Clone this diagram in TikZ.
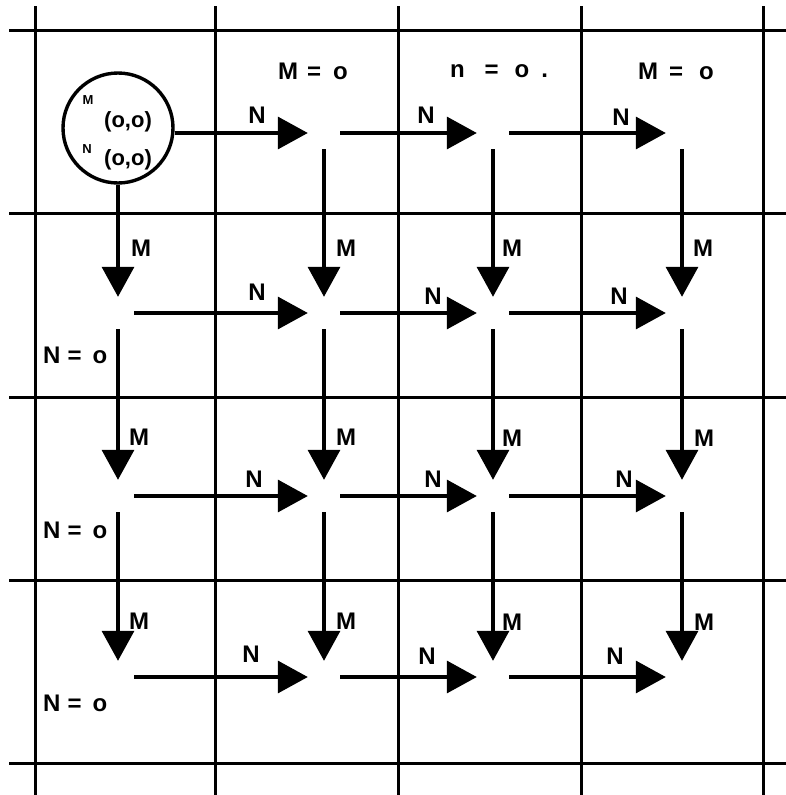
\documentclass[tikz,border=0pt]{standalone}
\usepackage{fontspec}
\setmainfont{Liberation Sans}
\usetikzlibrary{arrows.meta}
\begin{document}
\begin{tikzpicture}[x=1pt,y=-1pt,
  gridline/.style={line width=3pt},
  flow/.style={line width=3.4pt,-{Triangle[length=30pt,width=32pt]}},
  lattice/.style={rectangle,inner sep=0pt,minimum size=32pt},
  lab/.style={font=\fontsize{24}{28}\selectfont\bfseries,inner sep=0pt},
  sub/.style={font=\fontsize{13}{15}\selectfont\bfseries,inner sep=0pt},
  pair/.style={font=\fontsize{22}{26}\selectfont\bfseries,inner sep=0pt}
]
\useasboundingbox (0,0) rectangle (786,795);
% grid
\foreach \x in {35,215,398,581,763} \draw[gridline] (\x,6) -- (\x,795);
\foreach \y in {30,213,397,580,763} \draw[gridline] (9,\y) -- (786,\y);
% lattice points
\foreach \c/\x in {1/118,2/324,3/493,4/682}
  \foreach \r/\y in {1/133,2/313,3/496,4/677}
    \node[lattice] (n\c\r) at (\x,\y) {};
% start circle
\node[circle,draw,line width=3.4pt,fill=white,minimum size=110pt,inner sep=0pt] (s) at (118,128) {};
\node[sub] (sm) at (88,100) {M};
\node[pair] (sm2) at (128,122) {(o,o)};
\node[sub] (sn) at (87,149) {N};
\node[pair] (sn2) at (128,160) {(o,o)};
% arrows from start
\draw[flow] (s.east |- n21) -- (n21.west);
\draw[flow] (s) -- (n12);
% horizontal arrows
\draw[flow] (n21) -- (n31);
\draw[flow] (n31) -- (n41);
\foreach \r in {2,3,4} {
  \draw[flow] (n1\r) -- (n2\r);
  \draw[flow] (n2\r) -- (n3\r);
  \draw[flow] (n3\r) -- (n4\r);
}
% vertical arrows
\draw[flow] (n12) -- (n13);
\draw[flow] (n13) -- (n14);
\foreach \c in {2,3,4} {
  \draw[flow] (n\c1) -- (n\c2);
  \draw[flow] (n\c2) -- (n\c3);
  \draw[flow] (n\c3) -- (n\c4);
}
% N labels
\foreach \p/\q [count=\i] in {257/115,426/115,621/117,
  257/292,433/296,619/296,
  254/479,433/479,624/479,
  251/654,427/656,615/656}
  \node[lab] (nl\i) at (\p,\q) {N};
% M labels
\foreach \p/\q [count=\i] in {141/248,346/248,512/248,703/248,
  139/437,346/437,512/438,704/438,
  139/621,346/621,512/622,704/622}
  \node[lab] (ml\i) at (\p,\q) {M};
% boundary labels
\node[lab] (t1) at (313,71) {M\hspace{9pt}=\hspace{12pt}o};
\node[lab] (t2) at (499,71) {n\hspace{20pt}=\hspace{16pt}o\hspace{12pt}.};
\node[lab] (t3) at (676,71) {M\hspace{11pt}=\hspace{16pt}o};
\node[lab,anchor=west] (l1) at (43,355) {N\hspace{7pt}=\hspace{11pt}o};
\node[lab,anchor=west] (l2) at (43,530) {N\hspace{7pt}=\hspace{11pt}o};
\node[lab,anchor=west] (l3) at (43,703) {N\hspace{7pt}=\hspace{11pt}o};
\end{tikzpicture}
\end{document}
